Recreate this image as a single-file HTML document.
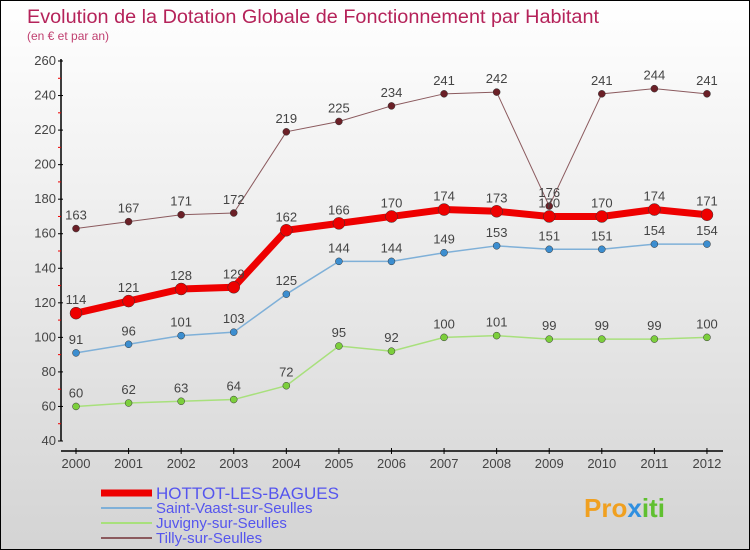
<!DOCTYPE html>
<html><head><meta charset="utf-8"><style>
body{margin:0}
#c{width:750px;height:550px;position:relative;overflow:hidden;background:linear-gradient(#fff,#d4d4d4);box-sizing:border-box;border:1px solid #000;font-family:"Liberation Sans","DejaVu Sans",sans-serif}
</style></head><body>
<div id="c">
<svg id="s" width="750" height="550" style="position:absolute;left:0;top:0">
<text x="26" y="22" font-size="19" fill="#b5235a" textLength="572" lengthAdjust="spacingAndGlyphs">Evolution de la Dotation Globale de Fonctionnement par Habitant</text>
<text x="26" y="39" font-size="12" fill="#c04070">(en € et par an)</text>
<text x="583" y="516" font-size="26" font-weight="bold" fill="#f0a020">Pro<tspan fill="#3090e0">x</tspan><tspan fill="#60c030">iti</tspan></text>
</svg>
</div>
<script>
const years=[2000,2001,2002,2003,2004,2005,2006,2007,2008,2009,2010,2011,2012];
const hottot=[114,121,128,129,162,166,170,174,173,170,170,174,171];
const vaast=[91,96,101,103,125,144,144,149,153,151,151,154,154];
const juvigny=[60,62,63,64,72,95,92,100,101,99,99,99,100];
const tilly=[163,167,171,172,219,225,234,241,242,176,241,244,241];
const yTicks=[40,60,80,100,120,140,160,180,200,220,240,260];
const names=["HOTTOT-LES-BAGUES","Saint-Vaast-sur-Seulles","Juvigny-sur-Seulles","Tilly-sur-Seulles"];
const s=document.getElementById('s');const NS='http://www.w3.org/2000/svg';
const X=i=>75+i*52.58, Y=v=>440-(v-40)*380/220;
function el(t,a,p){const e=document.createElementNS(NS,t);for(const k in a)e.setAttribute(k,a[k]);(p||s).appendChild(e);return e;}
let ax=el('line',{x1:60,y1:58,x2:60,y2:440,stroke:'#000','stroke-width':1.5});

let xa=el('line',{x1:60,y1:450,x2:722,y2:450,stroke:'#000','stroke-width':1.5});

yTicks.forEach((v,i)=>{el('line',{x1:57,x2:62,y1:Y(v),y2:Y(v),stroke:'#000'});
if(i<yTicks.length-1)el('line',{x1:57,x2:60,y1:Y(v+10),y2:Y(v+10),stroke:'#e00'});
const t=el('text',{x:55,y:Y(v)+4,'text-anchor':'end','font-size':13,fill:'#444'});t.textContent=v;
});
years.forEach((y,i)=>{el('line',{x1:X(i),x2:X(i),y1:447,y2:453,stroke:'#000'});
const t=el('text',{x:X(i),y:467,'text-anchor':'middle','font-size':13,fill:'#444'});t.textContent=y;
});
const series=[[tilly,'#6b2027','#8b5a5e',1,3.5],[juvigny,'#7ccf3c','#a8e07c',1.5,3.5],[vaast,'#3c8ed0','#7fb0d8',1.5,3.5],[hottot,'#e00','#e00',7,6]];
series.forEach(([d,c,lc,w,r],k)=>{
const g=el('g',{});
el('polyline',{points:d.map((v,i)=>X(i)+','+Y(v)).join(' '),fill:'none',stroke:lc,'stroke-width':w},g);
d.forEach((v,i)=>{const p=el('circle',{cx:X(i),cy:Y(v),r:r,fill:c,stroke:'#333','stroke-width':0.5},g);

const t=el('text',{x:X(i),y:Y(v)-9,'text-anchor':'middle','font-size':13,fill:'#444'},g);t.textContent=v;
});});
const lg=[['#e00',7],['#7fb0d8',2],['#a8e07c',2],['#8b5a5e',2]];
lg.forEach(([c,w],i)=>{const y=492+i*15;
const g=el('g',{});
el('line',{x1:100,x2:151,y1:y,y2:y,stroke:c,'stroke-width':w},g);
const t=el('text',{x:155,y:y+(i==0?6:5),'font-size':i==0?17:15,fill:'#5555ee'},g);t.textContent=names[i];});
</script>
</body></html>
